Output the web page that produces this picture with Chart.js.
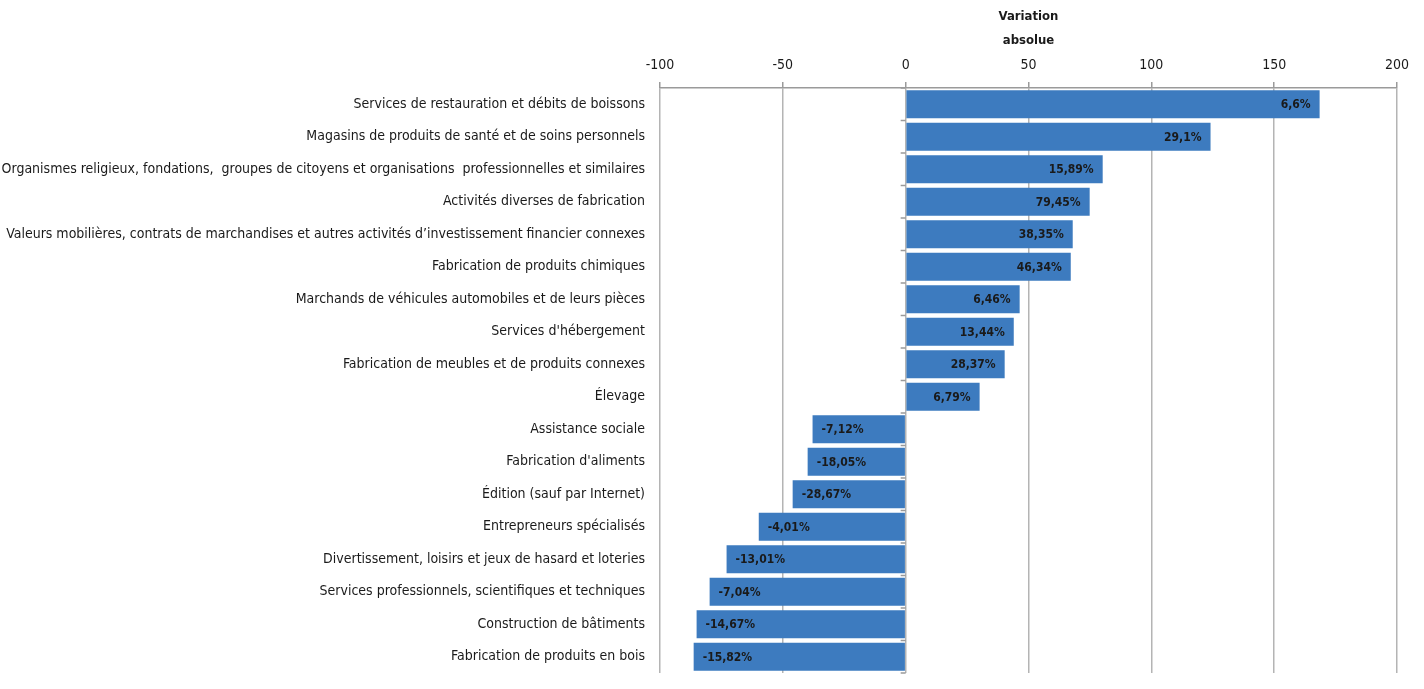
<!DOCTYPE html>
<html>
<head>
<meta charset="utf-8">
<script src="https://cdn.jsdelivr.net/npm/chart.js@4/dist/chart.umd.min.js"></script>
<style>
html,body{margin:0;padding:0;background:#fff;overflow:hidden;}
canvas{display:block;}
</style>
</head>
<body>
<canvas id="c" width="1424" height="689" style="width:1424px;height:689px;"></canvas>
<script>
const categories = [
  "Services de restauration et débits de boissons",
  "Magasins de produits de santé et de soins personnels",
  "Organismes religieux, fondations,  groupes de citoyens et organisations  professionnelles et similaires",
  "Activités diverses de fabrication",
  "Valeurs mobilières, contrats de marchandises et autres activités d’investissement financier connexes",
  "Fabrication de produits chimiques",
  "Marchands de véhicules automobiles et de leurs pièces",
  "Services d'hébergement",
  "Fabrication de meubles et de produits connexes",
  "Élevage",
  "Assistance sociale",
  "Fabrication d'aliments",
  "Édition (sauf par Internet)",
  "Entrepreneurs spécialisés",
  "Divertissement, loisirs et jeux de hasard et loteries",
  "Services professionnels, scientifiques et techniques",
  "Construction de bâtiments",
  "Fabrication de produits en bois"
];
const values = [168.5, 124.1, 80.2, 74.9, 68.0, 67.2, 46.4, 44.0, 40.3, 30.1,
  -37.9, -39.9, -46.0, -59.8, -72.9, -79.8, -85.1, -86.3];
const pctLabels = ["6,6%", "29,1%", "15,89%", "79,45%", "38,35%", "46,34%", "6,46%", "13,44%", "28,37%", "6,79%",
  "-7,12%", "-18,05%", "-28,67%", "-4,01%", "-13,01%", "-7,04%", "-14,67%", "-15,82%"];
const xMin = -100, xMax = 200, xStep = 50;
const axisTitle = ["Variation", "absolue"];

const FONT = "'Liberation Sans Narrow','DejaVu Sans Condensed','Liberation Sans',sans-serif";

const barLabels = {
  id: 'barLabels',
  afterDatasetsDraw(chart) {
    const ctx = chart.ctx;
    const meta = chart.getDatasetMeta(0);
    ctx.save();
    ctx.font = "bold 12px " + FONT;
    ctx.fillStyle = "#1a1a1a";
    ctx.textBaseline = "middle";
    meta.data.forEach((bar, i) => {
      const v = values[i];
      if (v >= 0) {
        ctx.textAlign = "right";
        ctx.fillText(pctLabels[i], bar.x - 9, bar.y + 1);
      } else {
        ctx.textAlign = "left";
        ctx.fillText(pctLabels[i], bar.x + 9, bar.y + 1);
      }
    });
    ctx.restore();
  }
};

const catTicks = {
  id: 'catTicks',
  afterDatasetsDraw(chart) {
    const ctx = chart.ctx;
    const xs = chart.scales.x, ys = chart.scales.y;
    const x0 = xs.getPixelForValue(0);
    ctx.save();
    ctx.strokeStyle = "#9a9a9a";
    ctx.lineWidth = 1.5;
    ctx.beginPath();
    for (let i = 0; i <= categories.length; i++) {
      const y = ys.getPixelForValue(i - 0.5);
      ctx.moveTo(x0 - 5, y);
      ctx.lineTo(x0, y);
    }
    ctx.stroke();
    ctx.restore();
  }
};

new Chart(document.getElementById('c'), {
  type: 'bar',
  data: {
    labels: categories,
    datasets: [{
      data: values,
      backgroundColor: '#3d7bbf',
      borderWidth: 0,
      barPercentage: 0.86,
      categoryPercentage: 1.0
    }]
  },
  plugins: [barLabels, catTicks],
  options: {
    indexAxis: 'y',
    responsive: false,
    devicePixelRatio: 1,
    animation: false,
    layout: { padding: { left: 0, right: 27, top: 0, bottom: 16 } },
    plugins: { legend: { display: false }, tooltip: { enabled: false } },
    scales: {
      x: {
        position: 'top',
        min: xMin, max: xMax,
        ticks: { stepSize: xStep, color: '#1a1a1a', font: { family: FONT, size: 14 }, padding: 8 },
        grid: { color: '#b4b4b4', lineWidth: 1.5, tickLength: 6, tickColor: '#9a9a9a' },
        border: { color: '#9a9a9a', width: 1.5 },
        title: { display: true, text: axisTitle, color: '#1a1a1a', font: { family: FONT, size: 13, weight: 'bold', lineHeight: 1.85 }, padding: { top: 5, bottom: 0 } },
        afterFit(scale) { scale.height = 88; }
      },
      y: {
        position: 'left',
        ticks: { color: '#1a1a1a', font: { family: FONT, size: 14 }, padding: 15, autoSkip: false },
        grid: { display: false, drawTicks: false },
        border: { display: false },
        afterFit(scale) { scale.width = 660; scale.paddingTop = 0; scale.paddingBottom = 0; }
      }
    }
  }
});
</script>
</body>
</html>
